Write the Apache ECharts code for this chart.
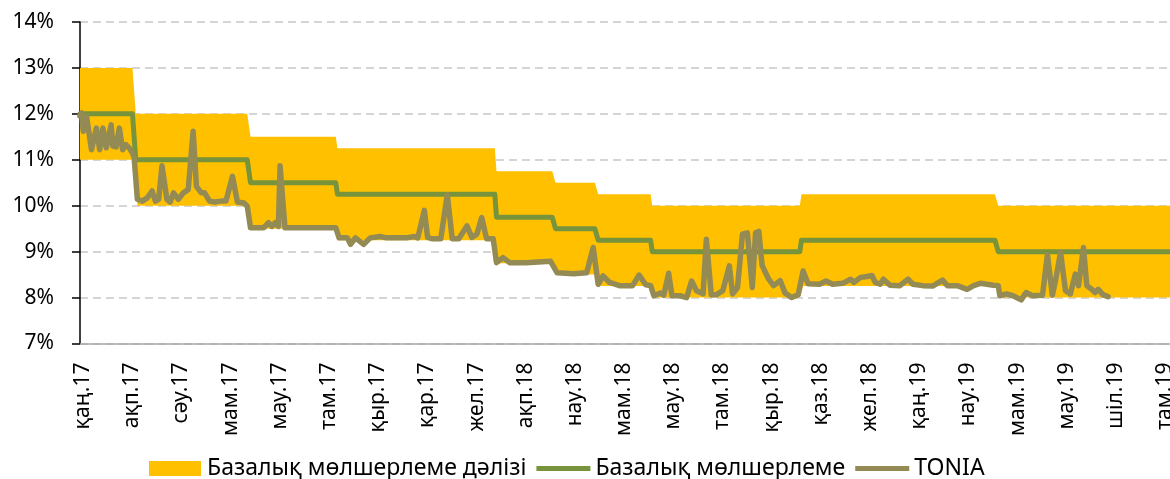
<!DOCTYPE html>
<html><head><meta charset="utf-8">
<script src="https://cdn.jsdelivr.net/npm/echarts@6/dist/echarts.min.js"></script>
<style>
html,body{margin:0;padding:0;overflow:hidden;background:#fff;width:1170px;height:479px}
#c{width:1200px;height:479px}
</style></head>
<body><div id="c"></div>
<script>
// x-axis: trading-day index; a tick label every 30 trading days
const tickLabels = ['қаң.17','ақп.17','сәу.17','мам.17','мау.17','там.17','қыр.17','қар.17','жел.17',
  'ақп.18','нау.18','мам.18','мау.18','там.18','қыр.18','қаз.18','жел.18','қаң.19','нау.19',
  'мам.19','мау.19','шіл.19','там.19'];
const tickStep = 30;
const endIdx = 680;

// policy-rate steps (start index of each regime)
const stepStart    = [0, 34, 104, 157, 254, 290, 316, 349, 440, 560];
const corridorLow  = [11, 10, 9.5, 9.25, 8.75, 8.5, 8.25, 8, 8.25, 8];
const baseRate     = [12, 11, 10.5, 10.25, 9.75, 9.5, 9.25, 9, 9.25, 9];
const corridorHigh = [13, 12, 11.5, 11.25, 10.75, 10.5, 10.25, 10, 10.25, 10];

// TONIA (trading-day index, %)
const toniaIdx = [0,1,2,4,7,10,12,14,16,19,20,22,24,26,28,30,32,33,35,38,41,44,46,48,50,53,55,57,60,63,66,69,71,74,76,79,82,86,89,93,96,100,102,
  104,108,112,115,117,119,121,122,125,135,145,156,158,163,165,168,173,177,183,187,199,204,206,210,212,215,220,224,227,231,236,239,242,245,248,252,
  254,258,262,272,287,291,301,309,313,316,319,323,329,337,341,345,348,350,354,356,359,361,366,370,373,376,380,382,385,388,392,396,398,401,404,407,410,412,414,416,420,423,427,430,434,438,
  441,444,451,455,459,465,470,472,476,480,483,485,488,490,494,500,505,508,514,520,526,529,535,541,545,549,557,560,
  561,565,569,574,577,581,587,590,593,595,598,601,604,607,609,612,614,617,619,621,624,627];
const toniaVal = [11.95,12.02,11.62,11.95,11.22,11.69,11.22,11.69,11.26,11.76,11.30,11.28,11.69,11.22,11.33,11.26,11.15,11.05,10.14,10.10,10.17,10.32,10.10,10.14,10.87,10.14,10.08,10.28,10.14,10.28,10.35,11.62,10.42,10.28,10.28,10.10,10.08,10.10,10.10,10.64,10.08,10.06,9.99,
  9.52,9.52,9.52,9.63,9.55,9.63,9.55,10.87,9.52,9.52,9.52,9.52,9.30,9.30,9.16,9.30,9.16,9.30,9.33,9.30,9.30,9.33,9.30,9.90,9.31,9.28,9.28,10.24,9.28,9.28,9.56,9.31,9.38,9.74,9.28,9.28,
  8.76,8.87,8.76,8.76,8.79,8.54,8.52,8.54,9.09,8.29,8.47,8.33,8.26,8.26,8.49,8.28,8.26,8.04,8.10,8.05,8.53,8.04,8.04,8.00,8.36,8.15,8.08,9.27,8.06,8.06,8.15,8.69,8.08,8.22,9.38,9.41,8.22,9.41,9.44,8.70,8.40,8.26,8.37,8.10,8.00,8.06,
  8.58,8.30,8.29,8.36,8.29,8.31,8.40,8.33,8.44,8.46,8.48,8.33,8.29,8.40,8.27,8.26,8.40,8.29,8.26,8.25,8.38,8.26,8.26,8.18,8.26,8.31,8.27,8.26,
  8.04,8.08,8.04,7.95,8.11,8.04,8.05,8.94,8.05,8.38,8.99,8.15,8.08,8.51,8.26,9.09,8.26,8.18,8.11,8.18,8.06,8.02];

const yMin = 7, yMax = 14;

// category axis: one category per trading day
const days = Array.from({length: endIdx + 1}, (_, i) => String(i));
function expandSteps(vals) {
  return days.map((_, d) => {
    let k = 0;
    for (let i = 0; i < stepStart.length; i++) if (d >= stepStart[i]) k = i;
    return vals[k];
  });
}
const lowDaily = expandSteps(corridorLow);
const highDaily = expandSteps(corridorHigh);
const bandDaily = lowDaily.map((v, i) => +(highDaily[i] - v).toFixed(4));
const baseDaily = expandSteps(baseRate);
const toniaPts = toniaIdx.map((x, i) => [x, toniaVal[i]]);

const FONT = "'Noto Sans', 'DejaVu Sans', sans-serif";
const N1 = 'Базалық мөлшерлеме дәлізі', N2 = 'Базалық мөлшерлеме', N3 = 'TONIA';

// legend layout: fit the three items between x=144 and x=981
const LEG_LEFT = 144, LEG_RIGHT = 981, ICON_W = 54, GAP = 10;
const mctx = document.createElement('canvas').getContext('2d');
mctx.font = "100px 'Noto Sans'";
const unitW = [N1, N2, N3].reduce((s, n) => s + mctx.measureText(n).width / 100, 0);
let legFont = (LEG_RIGHT - LEG_LEFT - 3 * (ICON_W + 5) - 2 * GAP) / unitW;
legFont = Math.max(20, Math.min(24, legFont));

const chart = echarts.init(document.getElementById('c'), null, {renderer: 'canvas'});
chart.setOption({
  animation: false,
  backgroundColor: '#fff',
  textStyle: {fontFamily: FONT},
  grid: {left: 80, right: 5, top: 22, bottom: 135.5, containLabel: false},
  legend: {
    left: LEG_LEFT, top: 452, itemWidth: ICON_W, itemHeight: 15, itemGap: GAP,
    symbolKeepAspect: true,
    textStyle: {fontFamily: FONT, fontSize: legFont, color: '#000'},
    data: [
      {name: N1, icon: 'path://M0,0H52V15H0Z', itemStyle: {color: '#FFC000'}},
      {name: N2, icon: 'path://M0,0H54V5H0Z', itemStyle: {color: '#77933C'}},
      {name: N3, icon: 'path://M0,0H54V5H0Z', itemStyle: {color: '#948A54'}}
    ]
  },
  xAxis: {
    type: 'category', data: days, boundaryGap: false,
    axisLine: {show: true, lineStyle: {color: '#A6A6A6', width: 1.5}},
    axisTick: {show: false},
    splitLine: {show: false},
    axisLabel: {
      rotate: 90, margin: 19, fontSize: 21, color: '#000', fontFamily: FONT,
      verticalAlign: 'top', lineHeight: 6,
      interval: (i) => i % tickStep === 0,
      formatter: (v, i) => (i % tickStep === 0 && tickLabels[i / tickStep]) ? tickLabels[i / tickStep] : ''
    }
  },
  yAxis: {
    type: 'value', min: yMin, max: yMax, interval: 1,
    axisLine: {show: true, lineStyle: {color: '#000', width: 1.5}},
    axisTick: {show: true, length: 8, lineStyle: {color: '#000', width: 1.5}},
    splitLine: {show: true, lineStyle: {color: '#C8C8C8', width: 1.5, type: [8, 5]}},
    axisLabel: {formatter: '{value}%', fontSize: 21, color: '#000', margin: 26, fontFamily: FONT}
  },
  series: [
    {name: 'low', type: 'line', stack: 'corr', data: lowDaily, symbol: 'none', silent: true,
     lineStyle: {width: 0, opacity: 0}, areaStyle: {opacity: 0}, z: 1},
    {name: N1, type: 'line', stack: 'corr', data: bandDaily, symbol: 'none', silent: true,
     itemStyle: {color: '#FFC000'}, lineStyle: {width: 0, opacity: 0},
     areaStyle: {color: '#FFC000', opacity: 1}, z: 1},
    {name: N2, type: 'line', data: baseDaily, symbol: 'none', itemStyle: {color: '#77933C'},
     lineStyle: {color: '#77933C', width: 5, cap: 'round', join: 'round'}, z: 3},
    {name: N3, type: 'line', data: toniaPts, symbol: 'none', itemStyle: {color: '#948A54'},
     lineStyle: {color: '#948A54', width: 5.5, cap: 'round', join: 'round'}, z: 4}
  ]
});
</script>
</body></html>
